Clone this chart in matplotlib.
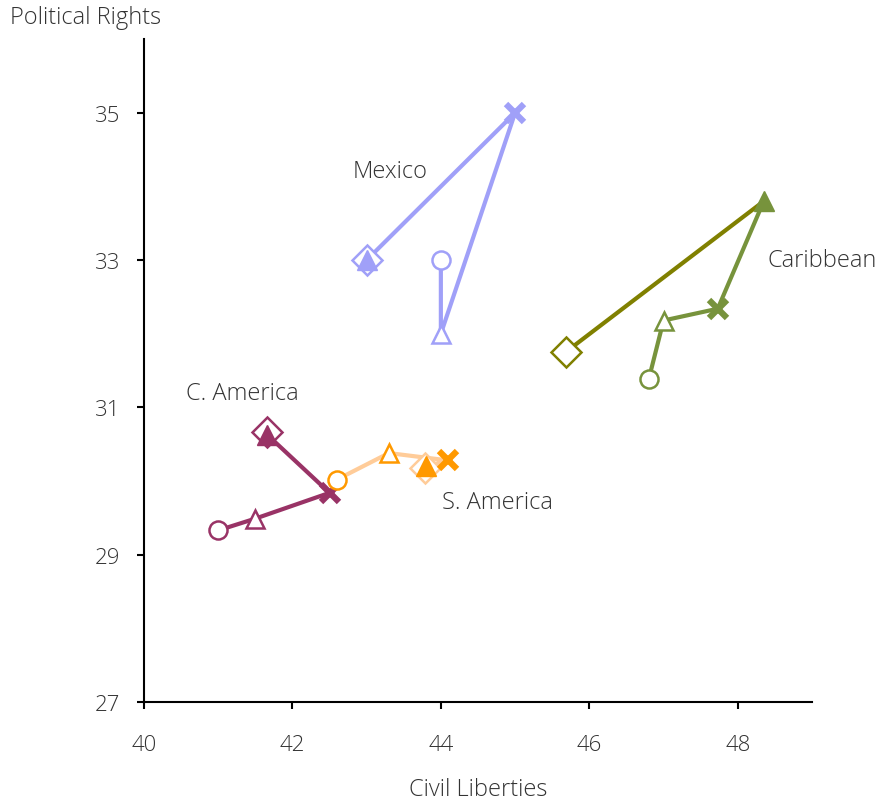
import matplotlib
matplotlib.use("Agg")
import matplotlib.pyplot as plt

plt.rcParams['font.family'] = ['Open Sans', 'DejaVu Sans']

regions = ["Mexico", "Caribbean", "C. America", "S. America"]
# order of points: circle, open triangle, X, filled triangle, diamond
civil = {
    "Mexico":     [44.0, 44.0, 45.0, 43.0, 43.0],
    "Caribbean":  [46.8, 47.0, 47.73, 48.35, 45.68],
    "C. America": [41.0, 41.5, 42.5, 41.66, 41.66],
    "S. America": [42.6, 43.3, 44.1, 43.8, 43.78],
}
political = {
    "Mexico":     [33.0, 32.0, 35.0, 33.0, 33.0],
    "Caribbean":  [31.38, 32.18, 32.34, 33.8, 31.75],
    "C. America": [29.33, 29.49, 29.84, 30.63, 30.67],
    "S. America": [30.02, 30.38, 30.28, 30.2, 30.18],
}
marker_color = {"Mexico": "#a0a0f8", "Caribbean": "#77933c",
                "C. America": "#993366", "S. America": "#ff9900"}
line_color = {"Mexico": "#a0a0f8", "Caribbean": "#77933c",
              "C. America": "#993366", "S. America": "#ffcc99"}
diamond_color = {"Mexico": "#a0a0f8", "Caribbean": "#808000",
                 "C. America": "#993366", "S. America": "#ffcc99"}
label_pos = {"Mexico": (43.31, 34.21, "center"), "Caribbean": (48.4, 33.0, "left"),
             "C. America": (41.32, 31.19, "center"), "S. America": (44.02, 29.72, "left")}

fig = plt.figure(figsize=(8.83, 8.03), dpi=100)
ax = fig.add_axes([0.163, 0.1245, 0.7566, 0.8255])

for r in regions:
    xs, ys = civil[r], political[r]
    mc, lc, dc = marker_color[r], line_color[r], diamond_color[r]
    ax.plot(xs[:4], ys[:4], color=lc, lw=3, zorder=2, solid_capstyle='round')
    ax.plot(xs[3:5], ys[3:5], color=dc, lw=3, zorder=2)
    ax.plot(xs[4], ys[4], marker='D', ms=15, mfc='white', mec=dc, mew=1.8, zorder=3, ls='none')
    ax.plot(xs[0], ys[0], marker='o', ms=13, mfc='white', mec=mc, mew=1.8, zorder=4, ls='none')
    ax.plot(xs[1], ys[1], marker='^', ms=13, mfc='white', mec=mc, mew=1.8, zorder=4, ls='none')
    ax.plot(xs[2], ys[2], marker='x', ms=13, mec=mc, mew=4.5, zorder=4, ls='none')
    ax.plot(xs[3], ys[3], marker='^', ms=14, mfc=mc, mec=mc, mew=1, zorder=5, ls='none')
    lx, ly, ha = label_pos[r]
    ax.text(lx, ly, r, ha=ha, va='center', fontsize=17, color='#333333', fontweight='light')

ax.set_xlim(40, 49)
ax.set_ylim(27, 36)
ax.set_xticks([40, 42, 44, 46, 48])
ax.set_yticks([27, 29, 31, 33, 35])
for s in ['top', 'right']:
    ax.spines[s].set_visible(False)
for s in ['left', 'bottom']:
    ax.spines[s].set_linewidth(1.5)
ax.tick_params(axis='both', direction='out', length=5, width=1.5, labelsize=16,
               labelcolor='#333333')
ax.tick_params(axis='x', pad=18)
ax.tick_params(axis='y', pad=12)
for lab in ax.get_xticklabels() + ax.get_yticklabels():
    lab.set_fontweight('light')
ax.set_xlabel("Civil Liberties", fontsize=17, color='#333333', fontweight='light', labelpad=16)
fig.text(10/883, 1 - 18/803, "Political Rights", fontsize=17, color='#333333',
         fontweight='light', ha='left', va='center')

fig.savefig("out.png", dpi=100)
